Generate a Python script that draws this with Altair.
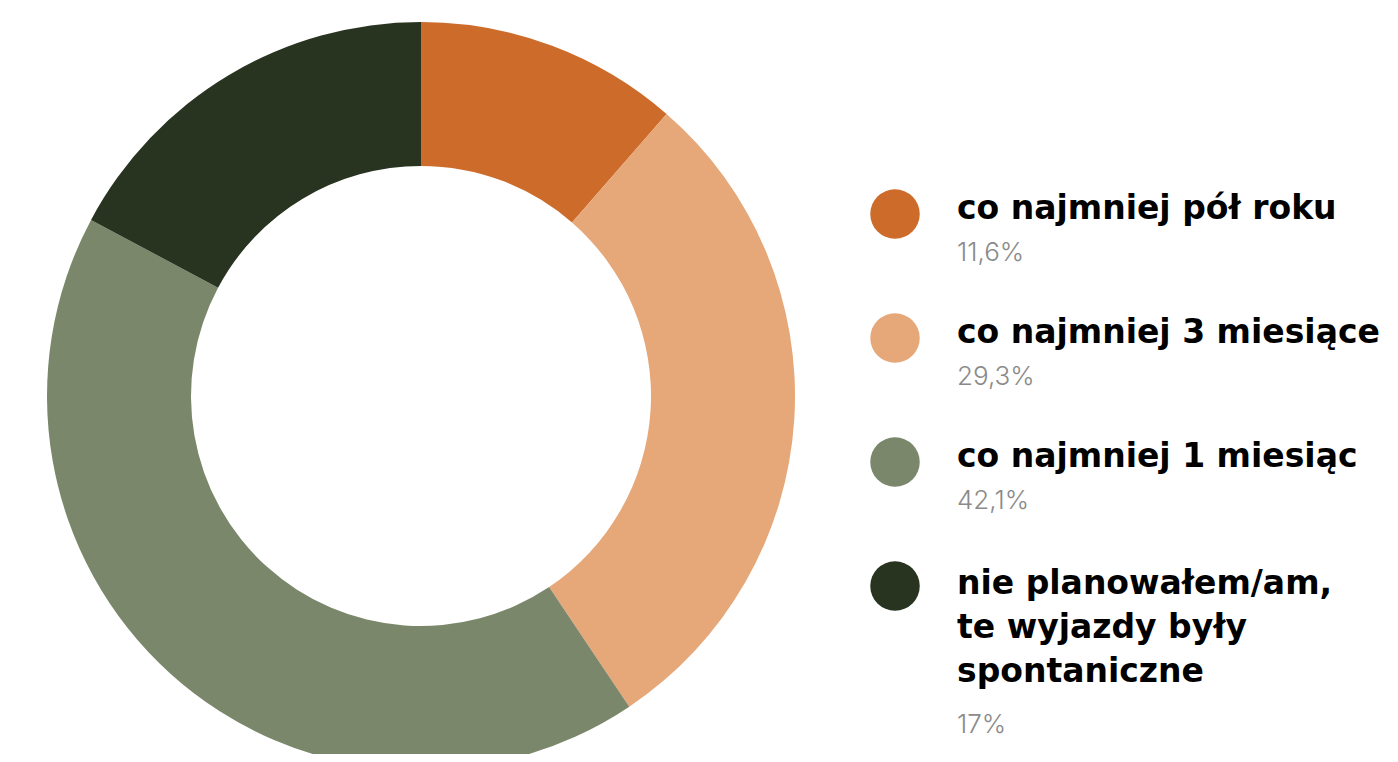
import altair as alt
import pandas as pd

categories = ["co najmniej pół roku", "co najmniej 3 miesiące", "co najmniej 1 miesiąc",
              "nie planowałem/am,\nte wyjazdy były\nspontaniczne"]
# slice sizes as drawn in the picture
values = [11.4, 29.2, 42.2, 17.2]
pct_labels = ["11,6%", "29,3%", "42,1%", "17%"]
colors = ["#CC6B2A", "#E6A779", "#7A876B", "#283320"]

W, H = 1382, 746
CX, CY = 413, 388
R_OUT, R_IN = 374, 230

df = pd.DataFrame({"cat": categories, "val": values, "pct": pct_labels,
                   "order": list(range(len(categories)))})

# legend layout
row_step = 124
first_circle = 206
cy, ly, py = [], [], []
for i, c in enumerate(categories):
    nl = c.count("\n")
    y0 = first_circle + row_step * i
    cy.append(y0)
    ly.append(y0 + 5 + (3 if nl else 0))
    py.append(y0 + 5 + 42 + nl * 50)
df["cy"] = cy
df["ly"] = ly
df["py"] = py

color = alt.Color("cat:N", scale=alt.Scale(domain=categories, range=colors), legend=None)
ypix = alt.Scale(domain=[0, H], range=[0, H])

donut = alt.Chart(df).mark_arc(outerRadius=R_OUT, innerRadius=R_IN, stroke=None).encode(
    theta=alt.Theta("val:Q", stack=True),
    order=alt.Order("order:Q"),
    color=color,
    x=alt.value(CX), y=alt.value(CY),
)

dots = alt.Chart(df).mark_circle(size=2450, opacity=1).encode(
    x=alt.value(887),
    y=alt.Y("cy:Q", scale=ypix, axis=None),
    color=color,
)

labels = alt.Chart(df).mark_text(
    align="left", baseline="alphabetic", font="DejaVu Sans", fontWeight="bold", fontSize=33,
    lineBreak="\n", lineHeight=44, color="#000000"
).encode(
    x=alt.value(949),
    y=alt.Y("ly:Q", scale=ypix, axis=None),
    text="cat:N",
)

pcts = alt.Chart(df).mark_text(
    align="left", baseline="alphabetic", font="Inter", fontWeight=300, fontSize=26,
    color="#8A8A8A"
).encode(
    x=alt.value(949),
    y=alt.Y("py:Q", scale=ypix, axis=None),
    text="pct:N",
)

chart = alt.layer(donut, dots, labels, pcts).properties(
    width=W, height=H, padding=0, autosize=alt.AutoSizeParams(type="none")
).configure_view(stroke=None)

chart.save("out.html", embed_options={"renderer": "svg", "actions": False})
